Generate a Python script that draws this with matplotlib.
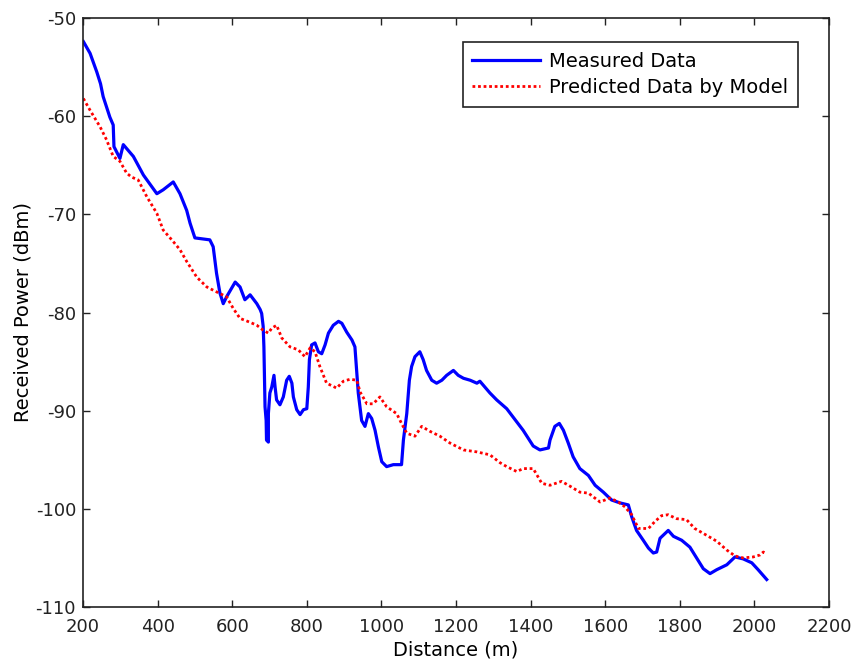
import matplotlib
matplotlib.use("Agg")
import matplotlib.pyplot as plt

measured_dist = [201, 219, 237, 247, 254, 272, 281, 283, 299, 308, 335, 362, 398, 415, 442, 460,
                 478, 487, 500, 540, 549, 558, 567, 576, 585, 608, 621, 634, 648, 666, 675, 679,
                 683, 685, 688, 691, 692, 697, 697, 701, 706, 712, 715, 719, 728, 737, 746, 753,
                 760, 764, 773, 782, 791, 800, 804, 807, 813, 822, 831, 840, 849, 858, 871, 885,
                 894, 907, 921, 929, 934, 938, 947, 956, 965, 974, 983, 992, 1001, 1014, 1032,
                 1054, 1059, 1068, 1075, 1081, 1090, 1103, 1112, 1121, 1135, 1148, 1162, 1175,
                 1193, 1206, 1220, 1238, 1256, 1264, 1273, 1291, 1309, 1336, 1354, 1380, 1407,
                 1425, 1448, 1452, 1465, 1477, 1488, 1501, 1514, 1532, 1555, 1573, 1595, 1617,
                 1640, 1662, 1671, 1684, 1702, 1716, 1729, 1738, 1747, 1769, 1783, 1805, 1827,
                 1845, 1863, 1881, 1899, 1926, 1948, 1970, 1993, 2010, 2033]
measured_power = [-52.4, -53.6, -55.5, -56.7, -58.0, -60.1, -60.9, -63.1, -64.3, -62.9, -64.1,
                  -66.0, -67.9, -67.5, -66.7, -67.9, -69.6, -70.9, -72.4, -72.6, -73.3, -76.0,
                  -78.0, -79.1, -78.4, -76.9, -77.4, -78.7, -78.2, -79.1, -79.7, -80.1, -81.4,
                  -83.5, -89.6, -91.0, -93.0, -93.2, -90.3, -88.2, -87.6, -86.4, -87.6, -88.9,
                  -89.4, -88.6, -86.9, -86.5, -87.2, -88.6, -89.9, -90.4, -89.9, -89.8, -87.6,
                  -84.8, -83.3, -83.1, -84.0, -84.2, -83.3, -82.1, -81.3, -80.9, -81.1, -82.0,
                  -82.8, -83.5, -86.2, -88.2, -91.0, -91.6, -90.3, -90.8, -92.0, -93.7, -95.2,
                  -95.7, -95.5, -95.5, -93.0, -90.3, -86.9, -85.5, -84.5, -84.0, -84.8, -85.9,
                  -86.9, -87.2, -86.9, -86.4, -85.9, -86.4, -86.7, -86.9, -87.2, -87.0, -87.4,
                  -88.2, -88.9, -89.8, -90.7, -92.0, -93.6, -94.0, -93.8, -93.0, -91.6, -91.3,
                  -92.0, -93.3, -94.7, -95.9, -96.6, -97.6, -98.3, -99.1, -99.4, -99.6, -100.8,
                  -102.2, -103.2, -104.0, -104.5, -104.4, -103.0, -102.2, -102.8, -103.2, -103.9,
                  -105.0, -106.1, -106.6, -106.2, -105.7, -104.9, -105.1, -105.5, -106.2, -107.2]

predicted_dist = [201, 219, 246, 263, 281, 299, 317, 330, 348, 371, 398, 415, 438, 460, 478, 505,
                  532, 558, 585, 603, 621, 648, 666, 683, 697, 706, 719, 733, 755, 777, 795, 809,
                  822, 835, 853, 880, 898, 916, 934, 943, 961, 978, 996, 1014, 1041, 1054, 1068,
                  1090, 1108, 1130, 1157, 1184, 1220, 1256, 1291, 1318, 1336, 1363, 1380, 1407,
                  1430, 1452, 1483, 1506, 1532, 1555, 1586, 1613, 1635, 1653, 1671, 1689, 1716,
                  1733, 1751, 1769, 1791, 1818, 1840, 1872, 1899, 1926, 1948, 1970, 1997, 2015,
                  2024, 2029]
predicted_power = [-58.2, -59.4, -61.1, -62.4, -64.1, -64.6, -65.8, -66.2, -66.5, -68.2, -69.9,
                   -71.6, -72.6, -73.6, -74.8, -76.4, -77.4, -77.9, -78.4, -79.6, -80.6, -81.0,
                   -81.3, -81.8, -82.1, -81.6, -81.3, -82.6, -83.5, -83.8, -84.5, -83.6, -84.0,
                   -85.5, -87.2, -87.7, -87.0, -86.8, -86.9, -88.1, -89.3, -89.3, -88.6, -89.6,
                   -90.3, -91.3, -92.3, -92.6, -91.6, -92.1, -92.6, -93.3, -94.0, -94.2, -94.5,
                   -95.3, -95.7, -96.2, -95.9, -95.9, -97.4, -97.6, -97.2, -97.7, -98.3, -98.4,
                   -99.3, -98.9, -99.3, -99.8, -100.6, -102.0, -102.0, -101.3, -100.7, -100.6,
                   -101.0, -101.1, -102.0, -102.7, -103.3, -104.2, -104.8, -105.0, -104.9, -104.7,
                   -104.4, -104.5]

x_ticks = [200, 400, 600, 800, 1000, 1200, 1400, 1600, 1800, 2000, 2200]
y_ticks = [-110, -100, -90, -80, -70, -60, -50]

plt.rcParams['font.family'] = ['DejaVu Sans']
plt.rcParams['axes.unicode_minus'] = False
fig = plt.figure(figsize=(8.58, 6.72), dpi=100)
ax = fig.add_axes([83 / 858, 1 - 607 / 672, (829 - 83) / 858, (607 - 18) / 672])

ax.plot(measured_dist, measured_power, color='#0000FF', lw=2.3, label='Measured Data')
ax.plot(predicted_dist, predicted_power, color='#FF0000', lw=2.0, linestyle=(0, (1, 1)),
        label='Predicted Data by Model')

ax.set_xlim(200, 2200)
ax.set_ylim(-110, -50)
ax.set_xticks(x_ticks)
ax.set_yticks(y_ticks)
ax.tick_params(direction='in', top=True, right=True, length=5, width=1, labelsize=13,
               colors='#222222')
ax.tick_params(axis='x', pad=8)
ax.tick_params(axis='y', pad=5)
for s in ax.spines.values():
    s.set_linewidth(1.2)
    s.set_color('#222222')

ax.set_xlabel('Distance (m)', fontsize=14, labelpad=3)
ax.set_ylabel('Received Power (dBm)', fontsize=14, labelpad=2)

leg = ax.legend(loc='upper right', bbox_to_anchor=(798 / 858, 1 - 42 / 672),
                bbox_transform=fig.transFigure, fontsize=14, fancybox=False,
                framealpha=1, edgecolor='#222222', handlelength=3.5, borderpad=0.5,
                labelspacing=0.38, handletextpad=0.45, borderaxespad=0)
leg.get_frame().set_linewidth(1.2)

fig.savefig('out.png', dpi=100, facecolor='white')
